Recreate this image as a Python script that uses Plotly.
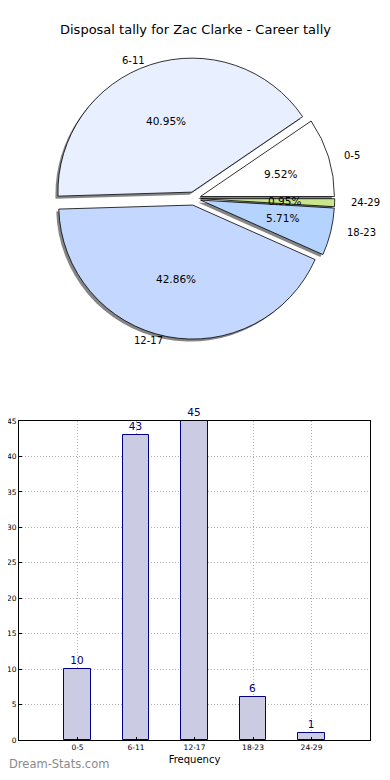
import math
import plotly.graph_objects as go

# ---- data ----
categories = ["0-5", "6-11", "12-17", "18-23", "24-29"]
counts = [10, 43, 45, 6, 1]
pie_colors = ["#ffffff", "#e8f0ff", "#c4d8ff", "#b4d4ff", "#c8e68c"]
title_text = "Disposal tally for Zac Clarke - Career tally"
y_ticks = [0, 5, 10, 15, 20, 25, 30, 35, 40, 45]

# page has an 8px body margin; size the figure so the page is 390x780
PAD = 8
W, H = 390 - 2 * PAD, 780 - 2 * PAD
explode = 0.05

def PX(px):
    return (px - PAD) / W

def PY(py):
    return 1 - (py - PAD) / H

fig = go.Figure()

# pie geometry (page pixels)
cx, cy = 194.0, 198.5
r = 134.0
half = r * (1 + explode)
total = sum(counts)
rot = 90 - 360.0 * counts[0] / total  # first slice starts at 3 o'clock, CCW

def dom(x0, x1, y0, y1):
    return dict(x=[PX(x0), PX(x1)], y=[PY(y1), PY(y0)])

# shadow pie
sx, sy = -2.5, 2.5
fig.add_trace(go.Pie(
    labels=categories, values=counts, sort=False,
    direction="counterclockwise", rotation=rot,
    pull=[explode] * len(counts),
    marker=dict(colors=["rgba(120,120,120,0.9)"] * len(counts),
                line=dict(width=0)),
    textinfo="none", hoverinfo="skip", showlegend=False,
    domain=dom(cx - half + sx, cx + half + sx, cy - half + sy, cy + half + sy),
))
# main pie
fig.add_trace(go.Pie(
    labels=categories, values=counts, sort=False,
    direction="counterclockwise", rotation=rot,
    pull=[explode] * len(counts),
    marker=dict(colors=pie_colors, line=dict(color="#000000", width=0.8)),
    textinfo="none", showlegend=False,
    domain=dom(cx - half, cx + half, cy - half, cy + half),
))

# labels & percentages (matplotlib-style positions, from data)
rx, ry = 136.0, 126.0
annotations = []
start = 0.0
for cat, v in zip(categories, counts):
    ang = 360.0 * v / total
    mid = math.radians(start + ang / 2)
    start += ang
    c, s = math.cos(mid), math.sin(mid)
    ox, oy = explode * rx * c, explode * ry * s
    lx = cx + ox + 1.1 * rx * c
    ly = cy - oy - 1.1 * ry * s
    annotations.append(dict(
        x=PX(lx), y=PY(ly), xref="paper", yref="paper",
        text=cat, showarrow=False, xanchor="left" if c > 0 else "right",
        yanchor="middle", borderpad=0,
        font=dict(size=10, color="#000000")))
    px = cx + ox + 0.6 * 140.0 * c
    py = cy - oy - 0.6 * ry * s
    annotations.append(dict(
        x=PX(px), y=PY(py), xref="paper", yref="paper",
        text=f"{100 * v / total:.2f}%", showarrow=False,
        xanchor="center", yanchor="middle",
        font=dict(size=10.5, color="#000000")))

annotations.append(dict(
    x=PX(195), y=PY(30), xref="paper", yref="paper", text=title_text,
    showarrow=False, xanchor="center", yanchor="middle",
    font=dict(size=13, color="#000000")))
annotations.append(dict(
    x=0, y=PY(764), xref="paper", yref="paper", text="Dream-Stats.com",
    showarrow=False, xanchor="left", yanchor="middle", borderpad=0,
    font=dict(size=11.5, color="#8a8a8a", family="DejaVu Sans")))

# bar chart
fig.add_trace(go.Bar(
    x=categories, y=counts, width=0.45,
    marker=dict(color="#cbcbe4", line=dict(color="#000080", width=1)),
    text=[str(v) for v in counts], textposition="outside",
    textfont=dict(color="#000080", size=10.5), cliponaxis=False,
    showlegend=False, xaxis="x", yaxis="y",
))

grid = dict(showgrid=True, gridcolor="#b0b0b0", griddash="1px,2px",
            gridwidth=1, showline=True, mirror=True, linecolor="#000000",
            linewidth=1, ticks="inside", ticklen=3, tickcolor="#000000",
            tickfont=dict(size=7.5), zeroline=False, automargin=False)

fig.update_layout(
    width=W, height=H, margin=dict(l=0, r=0, t=0, b=0, autoexpand=False),
    paper_bgcolor="white", plot_bgcolor="white",
    font=dict(family="DejaVu Sans", color="#000000"),
    annotations=annotations,
    xaxis=dict(
        domain=[PX(19), PX(370)], type="category",
        categoryorder="array", categoryarray=categories,
        range=[-1, 5],
        title=dict(text="Frequency", font=dict(size=10), standoff=4),
        **grid,
    ),
    yaxis=dict(
        domain=[PY(740), PY(421)], range=[0, 45], tickvals=y_ticks,
        **grid,
    ),
    bargap=0,
)

fig.write_html("out.html")
